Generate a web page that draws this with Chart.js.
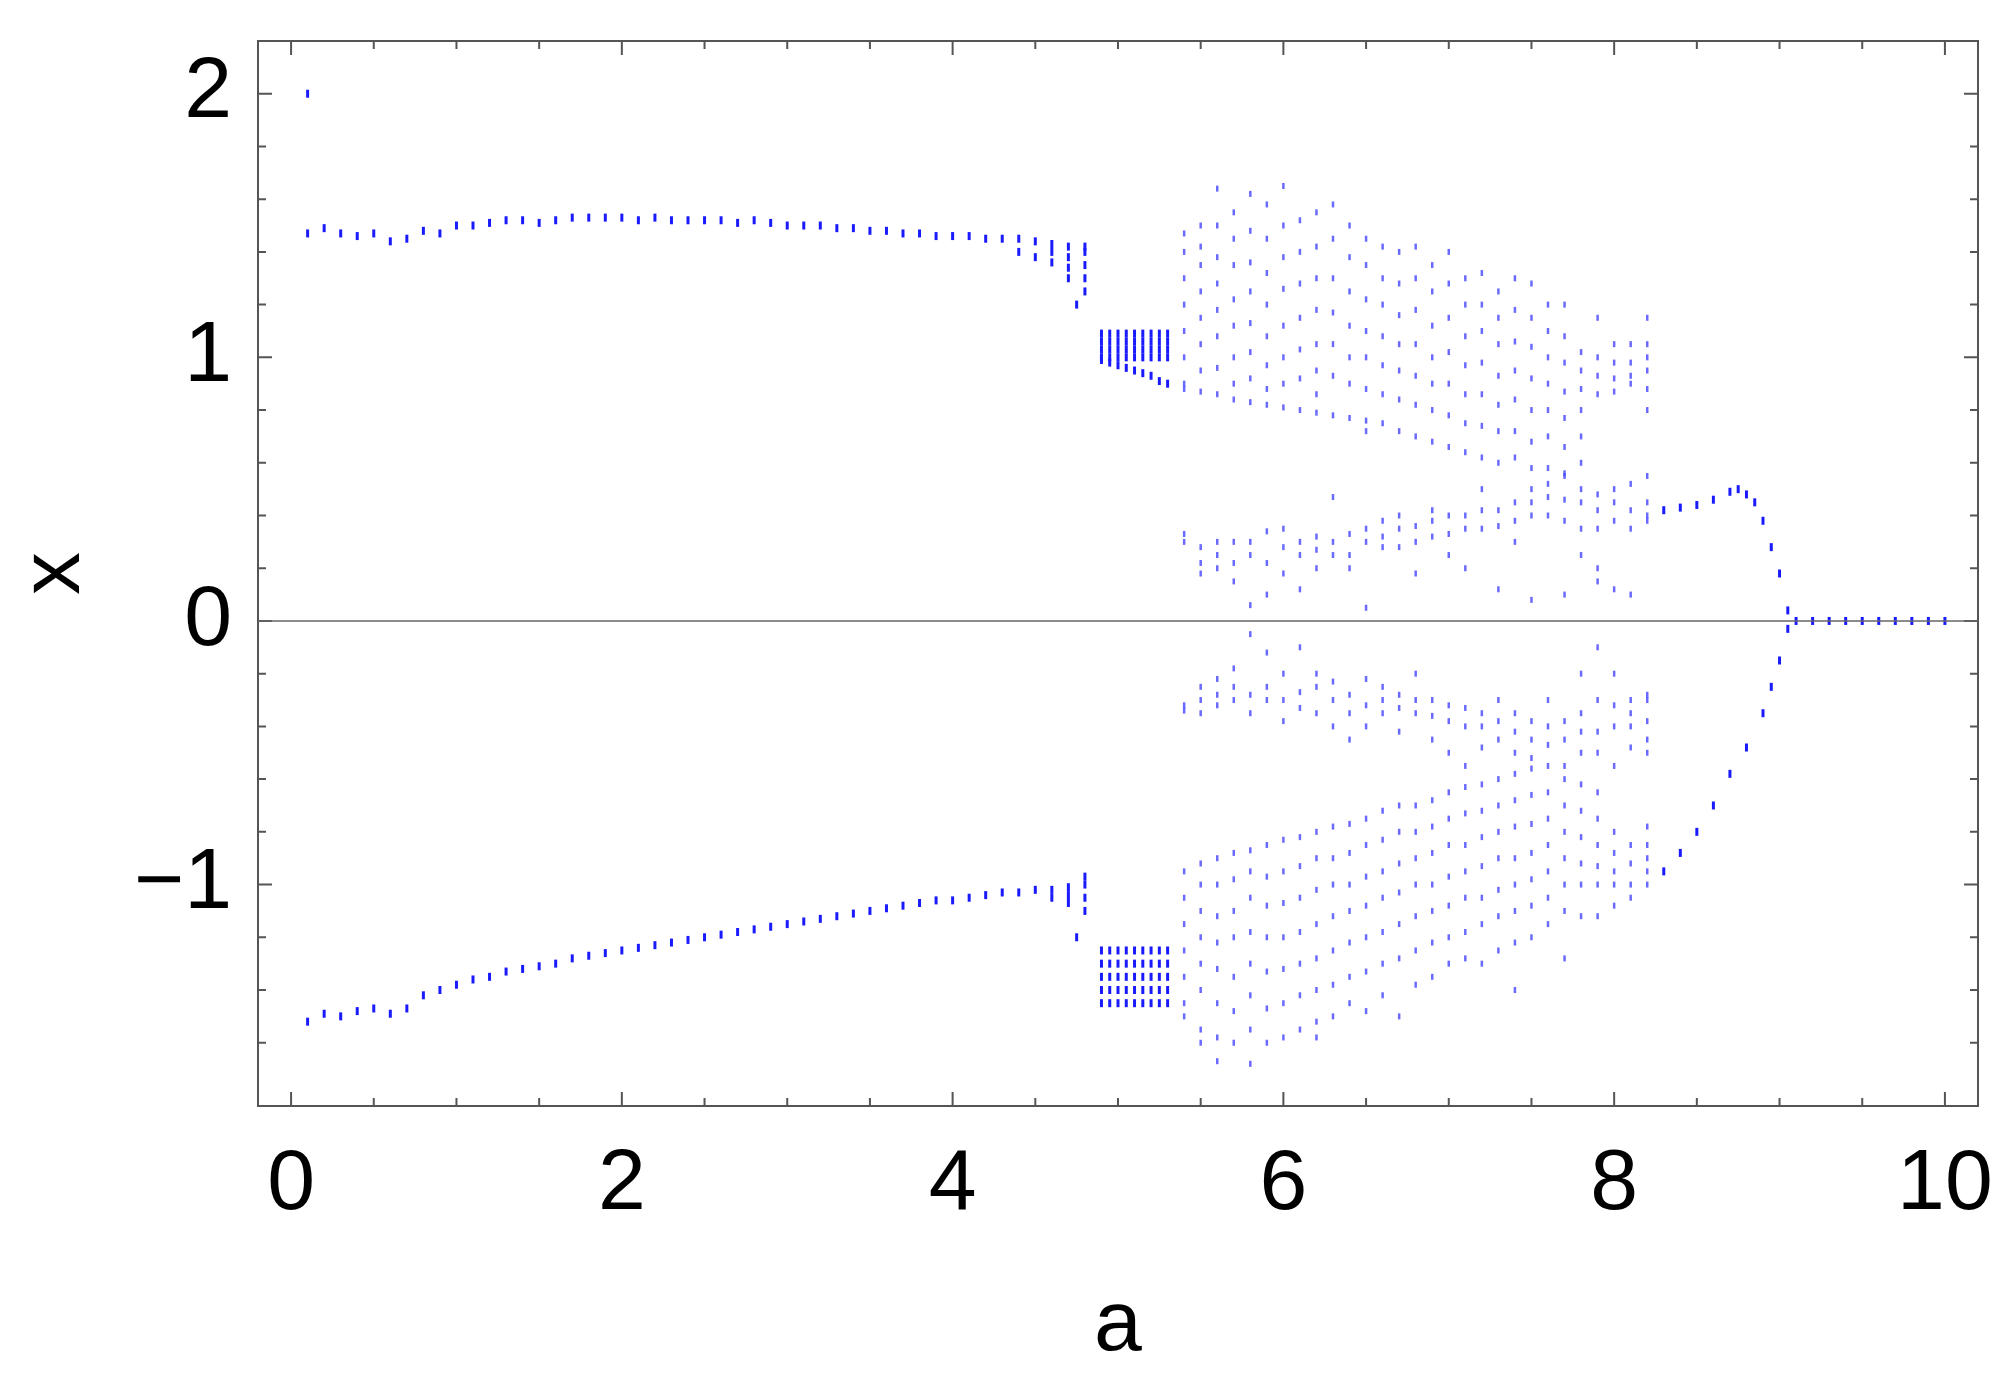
<!DOCTYPE html>
<html>
<head>
<meta charset="utf-8">
<script src="https://cdn.jsdelivr.net/npm/chart.js@4/dist/chart.umd.min.js"></script>
<style>
  body { margin: 0; background: #fff; }
  #wrap { width: 2015px; height: 1382px; }
</style>
</head>
<body>
<div id="wrap"><canvas id="bif"></canvas></div>
<script>
// periodic branch, a = 0.1 .. 4.8
const branchA = [0.1,0.2,0.3,0.4,0.5,0.6,0.7,0.8,0.9,1.0,1.1,1.2,1.3,1.4,1.5,1.6,1.7,1.8,1.9,2.0,2.1,2.2,2.3,2.4,2.5,2.6,2.7,2.8,2.9,3.0,3.1,3.2,3.3,3.4,3.5,3.6,3.7,3.8,3.9,4.0,4.1,4.2,4.3,4.4,4.5,4.6,4.7,4.8];
const branchUp = [1.47,1.49,1.47,1.46,1.47,1.44,1.45,1.48,1.47,1.5,1.5,1.51,1.52,1.52,1.51,1.52,1.53,1.53,1.53,1.53,1.52,1.53,1.52,1.52,1.52,1.52,1.51,1.52,1.51,1.5,1.5,1.5,1.49,1.49,1.48,1.48,1.47,1.47,1.46,1.46,1.46,1.45,1.45,1.45,1.44,1.43,1.42,1.42];
const branchLow = [-1.52,-1.49,-1.5,-1.48,-1.47,-1.49,-1.47,-1.42,-1.4,-1.38,-1.36,-1.35,-1.33,-1.32,-1.31,-1.3,-1.28,-1.27,-1.26,-1.25,-1.24,-1.23,-1.22,-1.21,-1.2,-1.19,-1.18,-1.17,-1.16,-1.15,-1.14,-1.13,-1.12,-1.11,-1.1,-1.09,-1.08,-1.07,-1.06,-1.06,-1.05,-1.04,-1.03,-1.03,-1.02,-1.02,-1.01,-1.0];
// extra points where the branch spreads, plus the lone point at x = 2
const spreadA = [0.1,4.4,4.5,4.6,4.6,4.7,4.7,4.7,4.8,4.8,4.8,4.8,4.75,4.6,4.7,4.7,4.8,4.8,4.8,4.75];
const spreadX = [2.0,1.4,1.38,1.36,1.4,1.34,1.3,1.38,1.3,1.35,1.4,1.25,1.2,-1.05,-1.07,-1.04,-1.05,-1.1,-0.97,-1.2];

// dense band, a = 4.9 .. 5.3
const bandA = [4.9,4.95,5.0,5.05,5.1,5.15,5.2,5.25,5.3];
const bandUp = [1.0,1.03,1.06,1.09];
const bandEdge = [0.99,0.98,0.97,0.96,0.95,0.94,0.93,0.91,0.9];
const bandLow = [-1.25,-1.3,-1.35,-1.4,-1.45];

// chaotic region, one column per a
const chaosA = [5.4,5.5,5.6,5.7,5.8,5.9,6.0,6.1,6.2,6.3,6.4,6.5,6.6,6.7,6.8,6.9,7.0,7.1,7.2,7.3,7.4,7.5,7.6,7.7,7.8,7.9,8.0,8.1,8.2];
const chaosX = [
  [1.47,1.4,1.3,1.2,1.1,1.0,0.9,0.88,0.33,0.3,-0.32,-0.34,-0.95,-1.05,-1.15,-1.25,-1.35,-1.45,-1.5],
  [1.5,1.42,1.35,1.25,1.15,1.05,0.95,0.87,0.28,0.22,0.18,-0.3,-0.25,-0.35,-0.92,-1.0,-1.1,-1.2,-1.3,-1.4,-1.55,-1.6],
  [1.64,1.5,1.38,1.28,1.18,1.08,0.96,0.86,0.25,0.3,0.2,-0.28,-0.22,-0.32,-0.9,-1.0,-1.12,-1.22,-1.32,-1.45,-1.58,-1.67],
  [1.55,1.45,1.35,1.22,1.12,1.0,0.9,0.84,0.22,0.3,0.15,-0.25,-0.3,-0.18,-0.88,-0.98,-1.1,-1.2,-1.35,-1.48,-1.6],
  [1.62,1.48,1.36,1.25,1.13,1.02,0.92,0.83,0.3,0.25,0.06,-0.05,-0.28,-0.35,-0.87,-0.95,-1.05,-1.18,-1.3,-1.42,-1.55,-1.68],
  [1.58,1.45,1.32,1.2,1.08,0.97,0.88,0.82,0.34,0.22,0.1,-0.12,-0.3,-0.25,-0.85,-0.97,-1.08,-1.2,-1.33,-1.47,-1.6],
  [1.65,1.5,1.38,1.26,1.12,1.0,0.9,0.81,0.28,0.35,0.18,-0.3,-0.2,-0.38,-0.83,-0.95,-1.07,-1.2,-1.32,-1.45,-1.58],
  [1.52,1.4,1.28,1.15,1.03,0.92,0.8,0.25,0.3,0.12,-0.27,-0.33,-0.1,-0.82,-0.93,-1.05,-1.18,-1.3,-1.42,-1.55],
  [1.55,1.42,1.3,1.18,1.05,0.95,0.86,0.79,0.27,0.2,0.32,-0.25,-0.35,-0.2,-0.8,-0.9,-1.02,-1.15,-1.28,-1.4,-1.52,-1.58],
  [1.58,1.45,1.3,1.17,1.05,0.93,0.78,0.3,0.25,0.47,-0.3,-0.23,-0.4,-0.78,-0.9,-1.0,-1.12,-1.25,-1.38,-1.5],
  [1.5,1.38,1.25,1.12,1.0,0.9,0.77,0.33,0.25,0.2,-0.28,-0.35,-0.45,-0.77,-0.88,-1.0,-1.1,-1.22,-1.35,-1.45],
  [1.45,1.35,1.22,1.1,1.0,0.88,0.76,0.72,0.3,0.35,0.05,-0.22,-0.32,-0.4,-0.75,-0.85,-0.97,-1.08,-1.2,-1.33,-1.48],
  [1.42,1.3,1.2,1.08,0.97,0.86,0.75,0.32,0.38,0.28,-0.3,-0.35,-0.25,-0.72,-0.83,-0.95,-1.05,-1.18,-1.3,-1.42],
  [1.4,1.28,1.16,1.05,0.95,0.84,0.72,0.35,0.28,0.4,-0.33,-0.28,-0.42,-0.7,-0.8,-0.92,-1.03,-1.15,-1.28,-1.5],
  [1.42,1.3,1.18,1.05,0.93,0.82,0.7,0.36,0.3,0.18,-0.35,-0.3,-0.2,-0.7,-0.8,-0.9,-1.0,-1.12,-1.25,-1.38],
  [1.35,1.25,1.12,1.0,0.9,0.8,0.68,0.38,0.32,0.42,-0.36,-0.3,-0.45,-0.68,-0.78,-0.88,-1.0,-1.1,-1.22,-1.35],
  [1.4,1.28,1.15,1.02,0.9,0.78,0.66,0.4,0.33,0.25,-0.38,-0.32,-0.5,-0.65,-0.75,-0.85,-0.97,-1.08,-1.2,-1.3],
  [1.3,1.2,1.08,0.97,0.86,0.75,0.64,0.4,0.35,0.2,-0.4,-0.33,-0.55,-0.63,-0.73,-0.85,-0.95,-1.05,-1.18,-1.28],
  [1.32,1.2,1.1,0.98,0.86,0.74,0.62,0.42,0.35,0.5,-0.4,-0.35,-0.48,-0.62,-0.72,-0.82,-0.93,-1.05,-1.15,-1.3],
  [1.25,1.15,1.05,0.93,0.82,0.72,0.6,0.42,0.36,0.12,-0.38,-0.45,-0.3,-0.6,-0.7,-0.8,-0.9,-1.02,-1.12,-1.25],
  [1.3,1.18,1.06,0.95,0.84,0.72,0.62,0.45,0.38,0.3,-0.42,-0.35,-0.5,-0.58,-0.68,-0.78,-0.9,-1.0,-1.1,-1.22,-1.4],
  [1.28,1.15,1.04,0.92,0.8,0.68,0.58,0.45,0.5,0.4,0.08,-0.45,-0.38,-0.52,-0.56,-0.66,-0.77,-0.88,-0.98,-1.08,-1.2],
  [1.2,1.1,1.0,0.9,0.8,0.7,0.58,0.47,0.4,0.52,-0.47,-0.4,-0.3,-0.55,-0.65,-0.75,-0.85,-0.95,-1.05,-1.15],
  [1.2,1.08,0.98,0.87,0.77,0.66,0.56,0.46,0.38,0.55,0.1,-0.45,-0.38,-0.55,-0.6,-0.7,-0.8,-0.9,-1.0,-1.1,-1.28],
  [1.02,0.95,0.88,0.8,0.7,0.6,0.45,0.35,0.25,0.5,-0.42,-0.35,-0.2,-0.5,-0.62,-0.72,-0.82,-0.92,-1.0,-1.12],
  [1.15,1.0,0.93,0.86,0.42,0.35,0.2,0.15,0.48,-0.42,-0.3,-0.1,-0.5,-0.65,-0.75,-0.85,-0.93,-1.0,-1.12],
  [1.05,0.98,0.92,0.87,0.45,0.38,0.12,0.5,-0.4,-0.32,-0.2,-0.55,-0.8,-0.88,-0.95,-1.0,-1.08],
  [1.05,0.98,0.93,0.9,0.42,0.35,0.52,0.1,-0.4,-0.35,-0.48,-0.3,-0.85,-0.92,-1.0,-1.05],
  [1.15,1.05,1.0,0.95,0.88,0.8,0.4,0.45,0.38,0.55,-0.3,-0.38,-0.45,-0.5,-0.28,-0.85,-0.9,-0.95,-1.0,-0.78]
];

// closing branches and the zero tail
const tailUpA = [8.3,8.4,8.5,8.6,8.7,8.75,8.8,8.85,8.9,8.95,9.0,9.05];
const tailUpX = [0.42,0.43,0.44,0.46,0.49,0.5,0.48,0.45,0.38,0.28,0.18,0.04];
const tailLowA = [8.3,8.4,8.5,8.6,8.7,8.8,8.9,8.95,9.0,9.05];
const tailLowX = [-0.95,-0.88,-0.8,-0.7,-0.58,-0.48,-0.35,-0.25,-0.15,-0.03];
const zeroA = [9.1,9.2,9.3,9.4,9.5,9.6,9.7,9.8,9.9,10.0];

const xTicks = [0, 2, 4, 6, 8, 10];
const yTicks = [-1, 0, 1, 2];

// build point lists
const darkPts = [];
branchA.forEach((a, i) => {
    darkPts.push({x: a, y: branchUp[i]});
    darkPts.push({x: a, y: branchLow[i]});
});
spreadA.forEach((a, i) => darkPts.push({x: a, y: spreadX[i]}));
bandA.forEach((a, i) => {
    bandUp.forEach(v => darkPts.push({x: a, y: v}));
    darkPts.push({x: a, y: bandEdge[i]});
    bandLow.forEach(v => darkPts.push({x: a, y: v}));
});
tailUpA.forEach((a, i) => darkPts.push({x: a, y: tailUpX[i]}));
tailLowA.forEach((a, i) => darkPts.push({x: a, y: tailLowX[i]}));
zeroA.forEach(a => darkPts.push({x: a, y: 0}));

const lightPts = [];
chaosA.forEach((a, i) => {
    chaosX[i].forEach(v => lightPts.push({x: a, y: v}));
});

// inward ticks on all four sides, like the original frame
const frameTicks = {
    id: 'frameTicks',
    afterDraw(chart) {
        const {ctx, chartArea: ca, scales: {x, y}} = chart;
        ctx.save();
        ctx.strokeStyle = '#555';
        ctx.lineWidth = 2;
        ctx.strokeRect(ca.left, ca.top, ca.right - ca.left, ca.bottom - ca.top);
        for (let v = 0; v <= 10.001; v += 0.5) {
            const px = x.getPixelForValue(v);
            const len = Math.abs(v % 2) < 0.01 ? 14 : 8;
            ctx.beginPath();
            ctx.moveTo(px, ca.bottom); ctx.lineTo(px, ca.bottom - len);
            ctx.moveTo(px, ca.top); ctx.lineTo(px, ca.top + len);
            ctx.stroke();
        }
        for (let k = -8; k <= 10; k++) {
            const v = k * 0.2;
            const py = y.getPixelForValue(v);
            const len = k % 5 === 0 ? 14 : 8;
            ctx.beginPath();
            ctx.moveTo(ca.left, py); ctx.lineTo(ca.left + len, py);
            ctx.moveTo(ca.right, py); ctx.lineTo(ca.right - len, py);
            ctx.stroke();
        }
        const y0 = y.getPixelForValue(0);
        ctx.lineWidth = 1.5;
        ctx.strokeStyle = '#666';
        ctx.beginPath();
        ctx.moveTo(ca.left, y0); ctx.lineTo(ca.right, y0);
        ctx.stroke();
        ctx.restore();
    }
};

const font = {family: 'Liberation Sans', size: 86};

new Chart(document.getElementById('bif'), {
    type: 'scatter',
    data: {
        datasets: [
            {data: darkPts, pointStyle: 'line', rotation: 90, radius: 4, borderWidth: 3,
             borderColor: '#1a1aff', backgroundColor: '#1a1aff'},
            {data: lightPts, pointStyle: 'line', rotation: 90, radius: 3, borderWidth: 2.5,
             borderColor: 'rgba(80,80,255,0.85)', backgroundColor: 'rgba(80,80,255,0.85)'}
        ]
    },
    options: {
        responsive: true,
        maintainAspectRatio: false,
        animation: false,
        layout: {padding: {top: 41, right: 37, left: 0, bottom: 0}},
        plugins: {legend: {display: false}, tooltip: {enabled: false}},
        scales: {
            x: {
                type: 'linear', min: -0.2, max: 10.2,
                afterFit: s => { s.height = 276; s.paddingLeft = 0; s.paddingRight = 0; },
                afterBuildTicks: s => { s.ticks = xTicks.map(v => ({value: v})); },
                grid: {display: false},
                border: {display: false},
                ticks: {color: '#000', font: font, padding: 20, maxRotation: 0},
                title: {display: true, text: 'a', color: '#000', font: font, padding: {top: 10}}
            },
            y: {
                type: 'linear', min: -1.84, max: 2.2,
                afterFit: s => { s.width = 258; s.paddingTop = 0; s.paddingBottom = 0; },
                afterBuildTicks: s => { s.ticks = yTicks.map(v => ({value: v})); },
                grid: {display: false},
                border: {display: false},
                ticks: {color: '#000', font: font, padding: 18,
                        callback: v => v < 0 ? '\u2212' + Math.abs(v) : String(v)},
                title: {display: true, text: 'x', color: '#000', font: font, padding: {bottom: 0}}
            }
        }
    },
    plugins: [frameTicks]
});
</script>
</body>
</html>
